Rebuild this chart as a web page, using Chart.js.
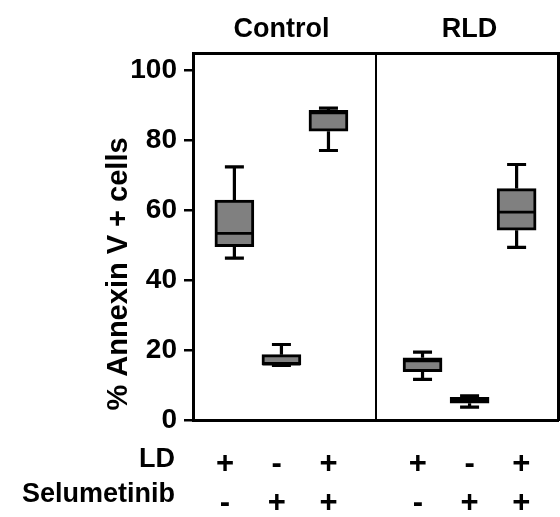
<!DOCTYPE html>
<html>
<head>
<meta charset="utf-8">
<script src="https://cdn.jsdelivr.net/npm/chart.js@4.4.1/dist/chart.umd.min.js"></script>
<style>
  html, body { margin: 0; padding: 0; background: #fff; }
</style>
</head>
<body>
<canvas id="myChart" width="560" height="517"></canvas>
<script>
const FONT = "'Liberation Sans', Arial, sans-serif";

// groups across the top
const groups = ['Control', 'RLD'];
const groupPos = [2, 6];
const dividerPos = 4;

// treatment rows under the boxes
const ldSigns = ['+', '-', '+', '+', '-', '+'];
const selSigns = ['-', '+', '+', '-', '+', '+'];
const boxPos = [1, 2, 3, 5, 6, 7];
// the +/- columns are not quite under the boxes in the original
const signPos = [0.8, 1.9, 3.0, 4.9, 6.0, 7.1];

// box plot values, % Annexin V + cells
const whiskerLow = [46.3, 15.6, 77.1, 11.6, 3.7, 49.4];
const q1 = [49.6, 15.8, 82.6, 13.8, 4.8, 54.3];
const median = [53.4, 16.0, 87.9, 16.9, 5.7, 59.5];
const q3 = [62.9, 18.7, 88.6, 17.8, 6.5, 66.2];
const whiskerHigh = [72.4, 21.6, 89.2, 19.4, 6.9, 73.1];

const yTicks = [0, 20, 40, 60, 80, 100];

// whiskers and medians on top of the floating bars
const boxExtras = {
  id: 'boxExtras',
  afterDatasetsDraw(chart) {
    const { ctx } = chart;
    const x = chart.scales.x;
    const y = chart.scales.y;
    ctx.save();
    ctx.strokeStyle = '#000';
    boxPos.forEach((p, i) => {
      const px = x.getPixelForValue(p);
      ctx.lineWidth = 3.2;
      ctx.beginPath();
      ctx.moveTo(px, y.getPixelForValue(q3[i]));
      ctx.lineTo(px, y.getPixelForValue(whiskerHigh[i]));
      ctx.moveTo(px, y.getPixelForValue(q1[i]));
      ctx.lineTo(px, y.getPixelForValue(whiskerLow[i]));
      ctx.moveTo(px - 9.5, y.getPixelForValue(whiskerHigh[i]));
      ctx.lineTo(px + 9.5, y.getPixelForValue(whiskerHigh[i]));
      ctx.moveTo(px - 9.5, y.getPixelForValue(whiskerLow[i]));
      ctx.lineTo(px + 9.5, y.getPixelForValue(whiskerLow[i]));
      ctx.stroke();
      ctx.lineWidth = 2.8;
      ctx.beginPath();
      ctx.moveTo(px - 19, y.getPixelForValue(median[i]));
      ctx.lineTo(px + 19, y.getPixelForValue(median[i]));
      ctx.stroke();
    });
    ctx.restore();
  },
  afterDraw(chart) {
    const { ctx } = chart;
    ctx.save();
    ctx.fillStyle = '#000';
    ctx.font = 'bold 27px ' + FONT;
    ctx.textAlign = 'right';
    ctx.textBaseline = 'alphabetic';
    ctx.fillText('LD', 175, 467);
    ctx.fillText('Selumetinib', 175, 502);
    // y title sits lower than the plot centre
    ctx.translate(127, 274);
    ctx.rotate(-Math.PI / 2);
    ctx.textAlign = 'center';
    ctx.font = 'bold 29px ' + FONT;
    ctx.fillText('% Annexin V + cells', 0, 0);
    ctx.restore();
  },
};

const xMin = 0.12;
const xMax = 7.88;

new Chart(document.getElementById('myChart').getContext('2d'), {
  type: 'bar',
  data: {
    datasets: [
      {
        data: boxPos.map((p, i) => ({ x: p, y: [q1[i], q3[i]] })),
        backgroundColor: '#808080',
        borderColor: '#000',
        borderWidth: 3,
        borderSkipped: false,
        barThickness: 39,
      },
    ],
  },
  options: {
    responsive: false,
    animation: false,
    layout: { padding: 0 },
    plugins: {
      legend: { display: false },
      tooltip: { enabled: false },
    },
    scales: {
      x: {
        type: 'linear',
        position: 'bottom',
        min: xMin,
        max: xMax,
        offset: false,
        weight: 0,
        afterBuildTicks: (a) => { a.ticks = [{ value: dividerPos }]; },
        afterFit: (a) => { a.height = 0; },
        ticks: { display: false },
        grid: { offset: false, drawTicks: false, color: '#000', lineWidth: 2 },
        border: { display: true, color: '#000', width: 3 },
      },
      xl: {
        type: 'linear',
        position: 'bottom',
        min: xMin,
        max: xMax,
        offset: false,
        weight: 1,
        afterBuildTicks: (a) => { a.ticks = signPos.map((v) => ({ value: v })); },
        afterFit: (a) => { a.height = 97; },
        ticks: {
          autoSkip: false,
          maxRotation: 0,
          padding: 25,
          color: '#000',
          font: { family: FONT, size: 31, weight: 'bold', lineHeight: 1.25 },
          callback: (v, i) => [ldSigns[i], selSigns[i]],
        },
        grid: { display: false, drawTicks: false },
        border: { display: false },
      },
      x2: {
        type: 'linear',
        position: 'top',
        min: xMin,
        max: xMax,
        offset: false,
        afterBuildTicks: (a) => { a.ticks = groupPos.map((v) => ({ value: v })); },
        afterFit: (a) => { a.height = 53; },
        ticks: {
          autoSkip: false,
          maxRotation: 0,
          padding: 7,
          color: '#000',
          font: { family: FONT, size: 27, weight: 'bold' },
          callback: (v, i) => groups[i],
        },
        grid: { drawOnChartArea: false, drawTicks: false, color: 'rgba(0,0,0,0)' },
        border: { display: true, color: '#000', width: 3 },
      },
      y: {
        type: 'linear',
        position: 'left',
        min: 0,
        max: 105,
        afterBuildTicks: (a) => { a.ticks = yTicks.map((v) => ({ value: v })); },
        afterFit: (a) => { a.width = 193; },
        ticks: {
          padding: 7,
          color: '#000',
          font: { family: FONT, size: 28, weight: 'bold' },
        },
        grid: { drawOnChartArea: false, tickLength: 9, color: '#000', lineWidth: 2.5 },
        border: { display: true, color: '#000', width: 3 },
      },
      y2: {
        type: 'linear',
        position: 'right',
        min: 0,
        max: 105,
        afterFit: (a) => { a.width = 2; },
        ticks: { display: false },
        grid: { drawOnChartArea: false, drawTicks: false, color: 'rgba(0,0,0,0)' },
        border: { display: true, color: '#000', width: 3 },
      },
    },
  },
  plugins: [boxExtras],
});
</script>
</body>
</html>
